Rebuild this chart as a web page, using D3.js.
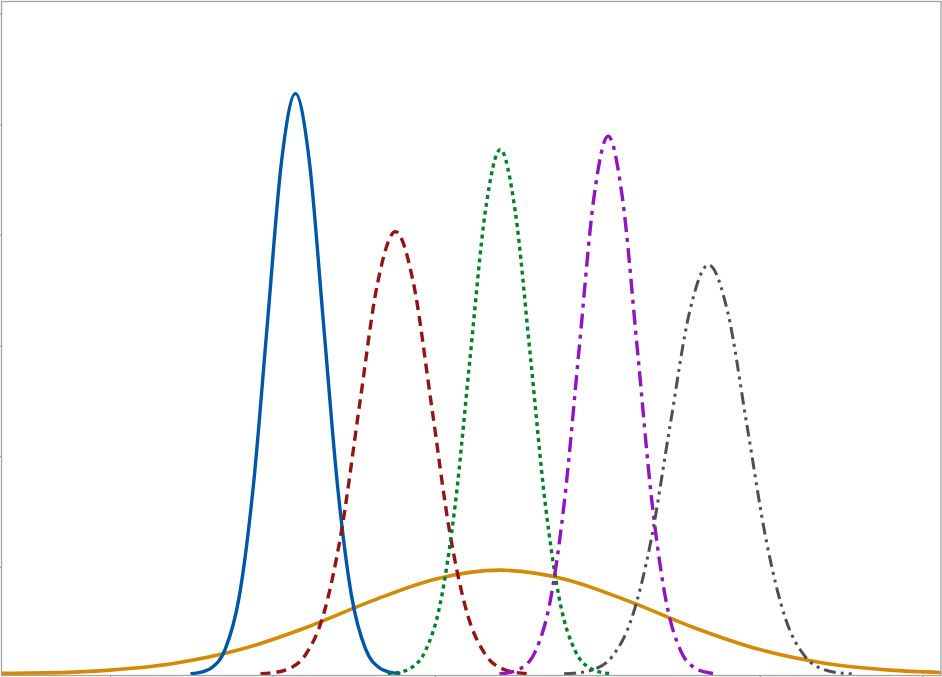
<!DOCTYPE html>
<html>
<head>
<meta charset="utf-8">
<script src="https://cdn.jsdelivr.net/npm/d3@7"></script>
<style>
  body { margin: 0; background: #fff; }
  svg { display: block; }
</style>
</head>
<body>
<svg id="chart"></svg>
<script>
// values (x in tick units, y in tick units)
var xTicks = [0, 1, 2, 3, 4, 5];
var yTicks = [0.97, 1.97, 2.97, 3.97, 4.97, 5.97];

var blueX = [0.495, 0.538, 0.624, 0.710, 0.796, 0.882, 0.969, 1.055, 1.141, 1.227, 1.313, 1.400, 1.486, 1.572, 1.658, 1.744, 1.787];
var blueY = [0.004, 0.012, 0.058, 0.230, 0.710, 1.704, 3.182, 4.630, 5.247, 4.630, 3.182, 1.704, 0.710, 0.230, 0.058, 0.012, 0.004];

var redX = [0.926, 0.981, 1.092, 1.203, 1.314, 1.425, 1.535, 1.646, 1.757, 1.868, 1.979, 2.089, 2.200, 2.311, 2.422, 2.533, 2.588];
var redY = [0.004, 0.009, 0.044, 0.176, 0.541, 1.299, 2.426, 3.530, 4.000, 3.530, 2.426, 1.299, 0.541, 0.176, 0.044, 0.009, 0.004];

var greenX = [1.709, 1.756, 1.848, 1.940, 2.033, 2.125, 2.217, 2.310, 2.402, 2.494, 2.587, 2.679, 2.771, 2.864, 2.956, 3.049, 3.095];
var greenY = [0.004, 0.010, 0.053, 0.208, 0.641, 1.539, 2.875, 4.184, 4.741, 4.184, 2.875, 1.539, 0.641, 0.208, 0.053, 0.010, 0.004];

var purpleX = [2.397, 2.441, 2.531, 2.620, 2.709, 2.798, 2.888, 2.977, 3.066, 3.155, 3.245, 3.334, 3.423, 3.512, 3.602, 3.691, 3.735];
var purpleY = [0.004, 0.011, 0.054, 0.213, 0.658, 1.579, 2.949, 4.292, 4.863, 4.292, 2.949, 1.579, 0.658, 0.213, 0.054, 0.011, 0.004];

var grayX = [2.795, 2.855, 2.973, 3.092, 3.210, 3.329, 3.447, 3.566, 3.684, 3.803, 3.921, 4.040, 4.158, 4.277, 4.395, 4.514, 4.573];
var grayY = [0.003, 0.008, 0.041, 0.162, 0.501, 1.202, 2.245, 3.266, 3.701, 3.266, 2.245, 1.202, 0.501, 0.162, 0.041, 0.008, 0.003];

var orangeX = [-0.668, -0.4, 0, 0.4, 0.8, 1.2, 1.6, 2.0, 2.4, 2.8, 3.2, 3.6, 4.0, 4.4, 4.8, 5.115];
var orangeY = [0.008, 0.0113, 0.0366, 0.0987, 0.222, 0.4175, 0.6555, 0.859, 0.94, 0.859, 0.6555, 0.4175, 0.222, 0.0987, 0.0366, 0.0148];

var svgWidth = 942, svgHeight = 677;
var plotLeft = 1.5, plotRight = 941, plotTop = 1.5, plotBottom = 675.5;

var svg = d3.select('#chart')
    .attr("width", svgWidth)
    .attr("height", svgHeight);

var x = d3.scaleLinear()
    .domain([-0.6685, 5.115])
    .range([plotLeft, plotRight]);

var y = d3.scaleLinear()
    .domain([-0.012, 6.08])
    .range([plotBottom, plotTop]);

// orange first so the others sit on top of it
var series = [
    { xs: orangeX, ys: orangeY, color: "#d38a05", width: 3.6, dash: null },
    { xs: blueX, ys: blueY, color: "#0057a8", width: 3.4, dash: null },
    { xs: redX, ys: redY, color: "#921515", width: 3.4, dash: "10,6" },
    { xs: greenX, ys: greenY, color: "#00802a", width: 3.4, dash: "4,4" },
    { xs: purpleX, ys: purpleY, color: "#9015bd", width: 3.4, dash: "15,6,4,6" },
    { xs: grayX, ys: grayY, color: "#4f4f4f", width: 3, dash: "12,5,3,5,3,5" }
];

var line = d3.line()
    .x(function(d) { return x(d[0]); })
    .y(function(d) { return y(d[1]); })
    .curve(d3.curveMonotoneX);

svg.append("defs").append("clipPath")
    .attr("id", "plot")
    .append("rect")
    .attr("x", plotLeft).attr("y", plotTop)
    .attr("width", plotRight - plotLeft).attr("height", plotBottom - plotTop);

svg.append("g")
    .attr("clip-path", "url(#plot)")
    .selectAll("path")
    .data(series)
    .enter()
    .append("path")
    .attr("d", function(s) { return line(d3.zip(s.xs, s.ys)); })
    .attr("fill", "none")
    .attr("stroke", function(s) { return s.color; })
    .attr("stroke-width", function(s) { return s.width; })
    .attr("stroke-dasharray", function(s) { return s.dash; })
    .attr("stroke-linejoin", "round");

// frame
svg.append("rect")
    .attr("x", plotLeft).attr("y", plotTop)
    .attr("width", plotRight - plotLeft).attr("height", plotBottom - plotTop)
    .attr("fill", "none")
    .attr("stroke", "#a3a3a3")
    .attr("stroke-width", 1.3);

var xAxis = svg.append("g")
    .attr("transform", "translate(0," + plotBottom + ")")
    .call(d3.axisBottom(x).tickValues(xTicks).tickSize(3).tickFormat(""));

var yAxis = svg.append("g")
    .attr("transform", "translate(" + plotLeft + ",0)")
    .call(d3.axisLeft(y).tickValues(yTicks).tickSize(3).tickFormat(""));

[xAxis, yAxis].forEach(function(g) {
    g.select(".domain").remove();
    g.selectAll(".tick line").attr("stroke", "#a3a3a3").attr("stroke-width", 1.3);
});
</script>
</body>
</html>
